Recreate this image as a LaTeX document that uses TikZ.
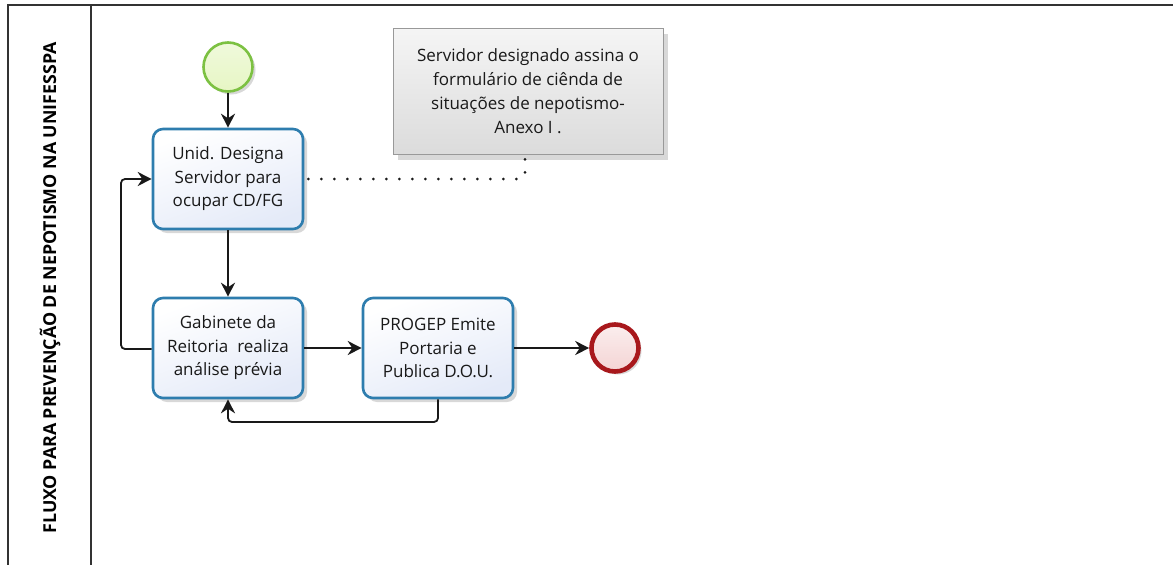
\documentclass[tikz,border=0pt]{standalone}
\usepackage{fontspec}
\setmainfont{Open Sans}
\newfontfamily\titlefont{Open Sans}
\usetikzlibrary{arrows.meta,shadows,calc}
\definecolor{taskborder}{HTML}{2E7DAE}
\definecolor{taskfillA}{HTML}{FFFFFF}
\definecolor{taskfillB}{HTML}{E4EAF8}
\definecolor{startborder}{HTML}{7CC142}
\definecolor{startfill}{HTML}{E6F6C4}
\definecolor{endborder}{HTML}{A8181C}
\definecolor{endfill}{HTML}{F4D4D4}
\definecolor{framecol}{HTML}{333333}
\tikzset{
  taskbox/.style={draw=taskborder, line width=2.6pt, rounded corners=10pt,
    minimum width=150pt, minimum height=100pt, align=center,
    top color=taskfillA, bottom color=taskfillB, shading angle=20,
    font=\fontsize{17}{23.5}\selectfont, text=black!90,
    drop shadow={shadow xshift=4pt, shadow yshift=-4pt, opacity=0.25, fill=black!60}},
  startev/.style={circle, draw=startborder, line width=2.6pt, minimum size=49pt,
    inner sep=0pt, top color=startfill!60, bottom color=startfill,
    drop shadow={shadow xshift=3pt, shadow yshift=-3pt, opacity=0.25, fill=black!60}},
  endev/.style={circle, draw=endborder, line width=4.6pt, minimum size=47pt,
    inner sep=0pt, top color=endfill!40, bottom color=endfill,
    drop shadow={shadow xshift=3pt, shadow yshift=-3pt, opacity=0.25, fill=black!60}},
  annot/.style={draw=black!40, line width=0.6pt, minimum width=270pt, minimum height=126pt,
    align=center, top color=black!4, bottom color=black!14,
    font=\fontsize{17}{24}\selectfont, text=black!90,
    drop shadow={shadow xshift=5pt, shadow yshift=-6pt, opacity=0.25, fill=black!60}},
  flow/.style={draw=black!90, line width=1.8pt, -{Stealth[length=14pt,width=14pt]}},
  assoc/.style={draw=black!90, line width=3pt, dash pattern=on 0pt off 13pt, line cap=round},
  frame/.style={draw=framecol, line width=2pt}
}
\begin{document}
\begin{tikzpicture}[x=1pt,y=-1pt]
\useasboundingbox (0,0) rectangle (1173,565);
\fill[white] (0,0) rectangle (1173,565);
% pool frame
\draw[frame] (8,570) -- (8,5) -- (1180,5);
\draw[frame] (91,5) -- (91,570);
\node[rotate=90, font=\titlefont\bfseries\fontsize{17.8}{20}\selectfont] (title) at (50,288) {FLUXO PARA PREVENÇÃO DE NEPOTISMO NA UNIFESSPA};
% annotation
\node[annot] (note) at (528,91) {Servidor designado assina o\\formulário de ciênda de\\situações de nepotismo-\\Anexo I .};
% events and tasks
\node[startev] (start) at (228,67) {};
\node[taskbox] (t1) at (228,179) {Unid. Designa\\Servidor para\\ocupar CD/FG};
\node[taskbox] (t2) at (228,348) {Gabinete da\\Reitoria\ \ realiza\\análise prévia};
\node[taskbox] (t3) at (438,348) {PROGEP Emite\\Portaria e\\Publica D.O.U.};
\node[endev] (end) at (615,348) {};
% connectors
\coordinate (c1) at (121,349);
\coordinate (c2) at (121,179);
\coordinate (c3) at (438,422);
\coordinate (c4) at (228,422);
\coordinate (a1) at (525,179);
\draw[flow] (start) -- (t1);
\draw[flow] (t1) -- (t2);
\draw[flow] (t2) -- (t3);
\draw[flow] (t3) -- (end);
\draw[flow, rounded corners=4pt] (t2.west |- c1) -- (c1) -- (c2) -- (t1.west);
\draw[flow, rounded corners=4pt] (t3.south) -- (c3) -- (c4) -- (t2.south);
\draw[assoc, rounded corners=5pt] (t1.east) ++(4,0) -- (a1) -- (a1 |- note.south);
\end{tikzpicture}
\end{document}
